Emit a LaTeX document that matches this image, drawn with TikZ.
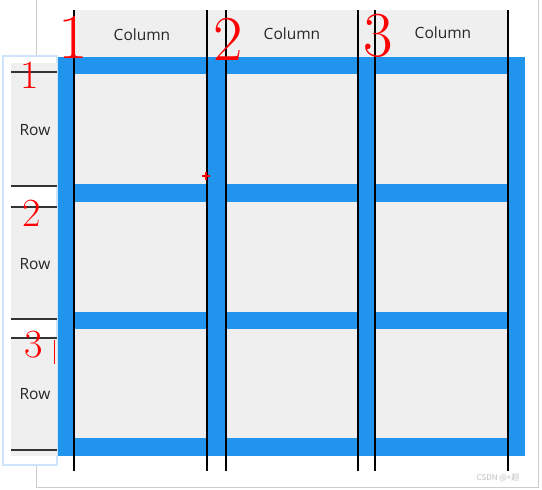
\documentclass[tikz,border=0pt]{standalone}
\usepackage{fontspec}
\setsansfont{Open Sans}
\newfontfamily\cjk{Noto Sans CJK SC}
\definecolor{gridblue}{RGB}{33,148,238}
\definecolor{cellgray}{RGB}{239,239,239}
\definecolor{shadowblue}{RGB}{205,228,250}
\tikzset{
	cell/.style={fill=cellgray},
	gridline/.style={black, line width=1.6pt},
	rowline/.style={black!80, line width=1.5pt},
	caption/.style={font=\sffamily\fontsize{15.5}{18}\selectfont, text=black!85},
	bignum/.style={red, font=\fontsize{64}{64}\selectfont, inner sep=0pt},
	smallnum/.style={red, font=\fontsize{40}{40}\selectfont, inner sep=0pt}
}
\begin{document}
\begin{tikzpicture}[x=1pt, y=-1pt]
		\useasboundingbox[fill=white] (0,0) rectangle (542,490);
		% panel behind the grid
		\draw[black!20, fill=white] (36,-2) -- (36,487) -- (538,487) -- (538,-2);
		\fill[cell] (73,10) rectangle (508,57);
		\fill[gridblue] (58,57) rectangle (525,456);
		\fill[cell] (74,74) rectangle (207,184);
		\fill[cell] (226,74) rectangle (358,184);
		\fill[cell] (375,74) rectangle (508,184);
		\fill[cell] (74,202) rectangle (207,312);
		\fill[cell] (226,202) rectangle (358,312);
		\fill[cell] (375,202) rectangle (508,312);
		\fill[cell] (74,329) rectangle (207,438);
		\fill[cell] (226,329) rectangle (358,438);
		\fill[cell] (375,329) rectangle (508,438);
		% column lines
		\draw[gridline] (74,10) -- (74,471);
		\draw[gridline] (207,10) -- (207,471);
		\draw[gridline] (226,10) -- (226,471);
		\draw[gridline] (358,10) -- (358,471);
		\draw[gridline] (375,10) -- (375,471);
		\draw[gridline] (508,10) -- (508,471);
		% row panel
		\draw[shadowblue, line width=2pt, fill=white] (3,56) rectangle (57,465);
		\fill[cell] (11,63) rectangle (57,186);
		\fill[cell] (11,207) rectangle (57,319);
		\fill[cell] (11,338) rectangle (57,456);
		\draw[rowline] (11,72) -- (57,72);
		\draw[rowline] (11,186) -- (57,186);
		\draw[rowline] (11,207) -- (57,207);
		\draw[rowline] (11,319) -- (57,319);
		\draw[rowline] (11,338) -- (57,338);
		\draw[rowline] (11,450) -- (57,450);
		\node[caption](col1) at (142,35) {Column};
		\node[caption](col2) at (292,34) {Column};
		\node[caption](col3) at (443,33) {Column};
		\node[caption](row1) at (35,130) {Row};
		\node[caption](row2) at (35,264) {Row};
		\node[caption](row3) at (35,394) {Row};
		% red marks
		\node[bignum](c1) at (73,37) {1};
		\node[bignum](c2) at (228,39) {2};
		\node[bignum](c3) at (378,36) {3};
		\node[smallnum](r1) at (30,75) {1};
		\node[smallnum](r2) at (32,213) {2};
		\node[smallnum](r3) at (34,345) {3};
		\draw[red, line width=0.6pt] (54,340) -- (54,364);
		\draw[red, line width=1.4pt] (202,176) -- (210,176) (206,172) -- (206,180);
		\node[black!25, font=\cjk\fontsize{8}{8}\selectfont](mark) at (498,478) {CSDN @+超};
	\end{tikzpicture}
\end{document}
